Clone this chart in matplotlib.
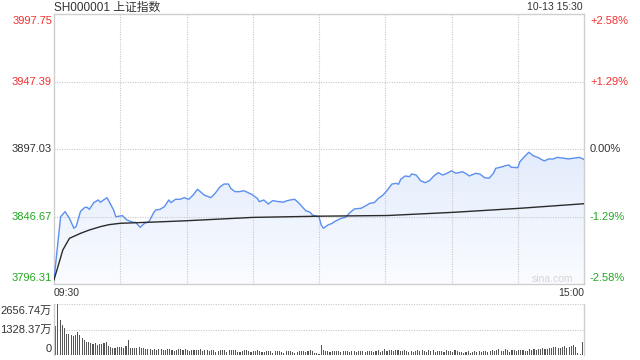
import matplotlib
matplotlib.use('Agg')
import matplotlib.pyplot as plt
import numpy as np
from matplotlib.transforms import blended_transform_factory
from matplotlib.colors import LinearSegmentedColormap

plt.rcParams['font.family'] = ['Liberation Sans', 'Noto Sans CJK SC', 'DejaVu Sans']

# ---------------- data ----------------
title = 'SH000001 上证指数'
stamp = '10-13 15:30'
watermark = 'sina.com'
pre_close = 3897.03
price_ticks = [3796.31, 3846.67, 3897.03, 3947.39, 3997.75]
pct_labels = ['-2.58%', '-1.29%', '0.00%', '+1.29%', '+2.58%']
time_labels = ['09:30', '15:00']
vol_ticks = [0, 1328.37, 2656.74]
vol_labels = ['0', '1328.37万', '2656.74万']

price_minutes = [0, 3, 5, 7, 9, 10, 12, 14, 15, 16, 18, 20, 21, 22, 24, 25, 27, 28, 31, 33,
                 36, 37, 39, 41, 43, 45, 46, 48, 50, 52, 53, 55, 57, 59, 61, 63, 65, 68, 70, 71,
                 73, 75, 77, 79, 80, 82, 84, 86, 88, 90, 92, 93, 95, 97, 99, 102, 104, 105, 107, 109,
                 111, 114, 116, 117, 120, 121, 122, 124, 126, 127, 130, 132, 134, 136, 139, 141, 143, 145, 147, 149,
                 151, 153, 155, 156, 157, 159, 161, 162, 164, 166, 168, 170, 172, 174, 176, 178, 180, 182, 185, 187,
                 188, 191, 193, 195, 197, 199, 200, 203, 204, 206, 207, 210, 211, 213, 215, 217, 219, 222, 224, 226,
                 228, 231, 233, 235, 238, 240]
price_values = [3799.5, 3846.5, 3850.3, 3845.3, 3837.9, 3839.1, 3850.5, 3853.5, 3853.5, 3852.0, 3857.0, 3859.0, 3857.3, 3858.5, 3860.7, 3857.7, 3851.5, 3846.5, 3847.3, 3844.1,
                3842.3, 3842.3, 3838.6, 3841.6, 3842.8, 3849.1, 3851.5, 3852.0, 3854.0, 3859.0, 3857.0, 3859.5, 3859.5, 3860.7, 3859.5, 3862.7, 3867.0, 3862.7, 3861.4, 3860.7,
                3864.0, 3868.5, 3870.9, 3870.9, 3867.7, 3865.2, 3865.2, 3865.9, 3864.4, 3862.7, 3860.3, 3857.7, 3859.0, 3856.0, 3858.5, 3857.7, 3857.3, 3858.2, 3859.0, 3859.5,
                3856.5, 3851.0, 3849.8, 3847.8, 3846.5, 3840.3, 3837.9, 3840.3, 3841.6, 3842.8, 3845.3, 3846.1, 3849.5, 3852.3, 3852.8, 3854.5, 3856.5, 3857.0, 3860.3, 3862.7,
                3866.4, 3870.9, 3871.4, 3870.7, 3874.4, 3876.9, 3876.4, 3878.4, 3877.6, 3873.4, 3871.9, 3873.4, 3876.9, 3879.4, 3877.6, 3878.9, 3880.8, 3878.9, 3880.1, 3878.2,
                3876.9, 3878.9, 3878.2, 3875.6, 3875.2, 3878.9, 3882.6, 3883.8, 3884.4, 3885.1, 3883.4, 3883.1, 3887.6, 3891.3, 3894.6, 3892.0, 3890.8, 3888.1, 3889.6, 3889.6,
                3890.8, 3890.1, 3889.6, 3890.1, 3890.8, 3889.2]

avg_minutes = [0, 2, 4, 7, 12, 16, 21, 25, 30, 45, 60, 90, 120, 151, 181, 211, 240]
avg_values = [3799.5, 3810.5, 3821.7, 3830.4, 3834.1, 3836.6, 3839.1, 3840.6, 3841.6, 3842.5, 3843.5, 3846.0, 3846.9, 3847.4, 3849.8, 3852.8, 3856.2]

volumes = [1520, 2656.74, 1840, 1570, 1390, 1085, 1085, 1060, 975, 1030,
           1210, 1060, 885, 795, 670, 700, 635, 580, 615, 525,
           580, 560, 615, 700, 450, 400, 380, 390, 420, 400,
           400, 370, 450, 760, 380, 360, 380, 390, 400, 360,
           340, 310, 330, 300, 280, 290, 250, 300, 320, 280,
           240, 300, 290, 250, 220, 270, 300, 290, 280, 300,
           250, 200, 280, 270, 260, 250, 290, 200, 250, 260,
           230, 270, 250, 180, 200, 260, 280, 250, 150, 240,
           250, 270, 260, 150, 180, 220, 250, 240, 200, 150,
           210, 230, 260, 220, 170, 140, 190, 230, 210, 130,
           200, 230, 220, 170, 130, 210, 220, 200, 180, 120,
           150, 200, 210, 190, 140, 200, 240, 210, 120, 80,
           60, 540, 250, 210, 220, 180, 200, 210, 190, 200,
           180, 190, 200, 210, 180, 200, 190, 170, 210, 190,
           200, 180, 190, 210, 230, 180, 200, 260, 180, 220,
           300, 230, 250, 280, 200, 250, 260, 190, 230, 250,
           200, 180, 220, 160, 210, 240, 230, 260, 190, 180,
           240, 220, 260, 170, 190, 220, 200, 180, 260, 230,
           210, 160, 240, 200, 150, 170, 130, 180, 200, 120,
           150, 220, 170, 210, 160, 190, 220, 150, 230, 250,
           200, 270, 290, 230, 200, 300, 260, 170, 250, 240,
           230, 280, 250, 270, 200, 210, 300, 260, 310, 280,
           330, 300, 350, 320, 300, 360, 380, 400, 420, 380,
           350, 420, 450, 380, 400, 470, 520, 430, 80, 60,
           670]

# ---------------- colours ----------------
RED = '#f23030'
GREEN = '#22a822'
DARK = '#333333'
GRID = '#c8c8c8'
SPINE = '#cfcfcf'
LINE = '#5b8ff0'

W, H = 640, 360
fig = plt.figure(figsize=(W / 100, H / 100), dpi=100)
fig.patch.set_facecolor('white')

def fx(px):
    return px / W

def fy(py):
    return 1 - py / H

L, R = 54, 584
ax = fig.add_axes([fx(L), fy(284), (R - L) / W, 270 / H])
axv = fig.add_axes([fx(L), fy(355), (R - L) / W, 51 / H])

# ---------------- main price panel ----------------
n_min = len(volumes) - 1
ax.set_xlim(0, n_min)
ax.set_ylim(price_ticks[0], price_ticks[-1])

poly = ax.fill_between(price_minutes, price_values, price_ticks[0], facecolor='none', edgecolor='none')
grad = np.linspace(0, 1, 256).reshape(-1, 1)
cmap = LinearSegmentedColormap.from_list('g', ['#fafcff', '#e3ecfc'])
top_val = max(price_values)
im = ax.imshow(grad, cmap=cmap, aspect='auto', origin='lower',
               extent=[0, n_min, price_ticks[0], top_val], zorder=1)
im.set_clip_path(poly.get_paths()[0], transform=ax.transData)
ax.set_ylim(price_ticks[0], price_ticks[-1])

ax.plot(price_minutes, price_values, color=LINE, lw=1.0, zorder=3)
ax.plot(avg_minutes, avg_values, color='#2a2a2a', lw=1.0, zorder=3)

ax.set_xticks(range(30, n_min, 30))
ax.set_yticks(price_ticks[1:-1])
ax.grid(True, color=GRID, linestyle=(0, (1, 1.2)), linewidth=0.8)
ax.tick_params(left=False, bottom=False, labelleft=False, labelbottom=False)
for s in ax.spines.values():
    s.set_color(SPINE)
    s.set_linewidth(1)

tr_l = blended_transform_factory(fig.transFigure, ax.transData)
for i, v in enumerate(price_ticks):
    col = RED if v > pre_close else (GREEN if v < pre_close else DARK)
    va = 'bottom' if i == 0 else ('top' if i == len(price_ticks) - 1 else 'center')
    dy = {'bottom': 0.6, 'top': -1.2, 'center': 0}[va]
    ax.text(fx(52), v + dy, f'{v:.2f}', transform=tr_l, ha='right', va=va, color=col, fontsize=8)
    ax.text(fx(590), v + dy, pct_labels[i], transform=tr_l, ha='left', va=va, color=col, fontsize=8)

fig.text(fx(L), fy(7.5), title, ha='left', va='center', color=DARK, fontsize=8.5)
fig.text(fx(583), fy(7.5), stamp, ha='right', va='center', color=DARK, fontsize=7.5)
fig.text(fx(L), fy(293), time_labels[0], ha='left', va='center', color=DARK, fontsize=7.5)
fig.text(fx(R), fy(293), time_labels[1], ha='right', va='center', color=DARK, fontsize=7.5)
fig.text(fx(552), fy(278.5), watermark, ha='center', va='center', color='#d4d4d4', fontsize=7.5)

# ---------------- volume panel ----------------
axv.bar(range(len(volumes)), volumes, width=0.5, color='#555555', zorder=2)
axv.set_xlim(-0.8, n_min + 0.8)
axv.set_ylim(0, vol_ticks[-1])
axv.set_yticks(vol_ticks[1:])
axv.grid(True, axis='y', color=GRID, linestyle=(0, (1, 1.2)), linewidth=0.8)
axv.tick_params(left=False, bottom=False, labelleft=False, labelbottom=False)
axv.spines['top'].set_visible(False)
axv.spines['bottom'].set_visible(False)
for s in ('left', 'right'):
    axv.spines[s].set_color(SPINE)
    axv.spines[s].set_linewidth(1)

tr_v = blended_transform_factory(fig.transFigure, axv.transData)
for i, v in enumerate(vol_ticks):
    va = 'bottom' if i == 0 else ('top' if i == len(vol_ticks) - 1 else 'center')
    dy = {'bottom': 60, 'top': -120, 'center': 0}[va]
    axv.text(fx(52), v + dy, vol_labels[i], transform=tr_v, ha='right', va=va, color=DARK, fontsize=8)

fig.savefig('out.png', dpi=100)
